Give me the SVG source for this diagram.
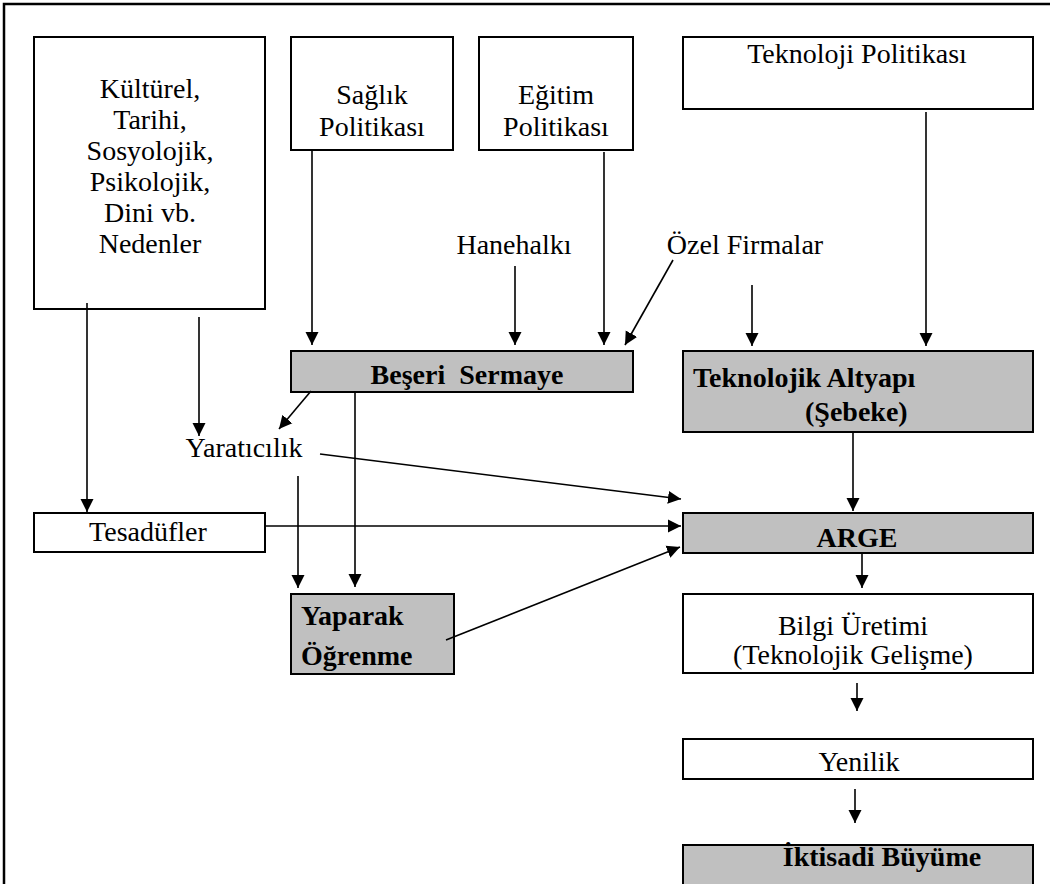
<svg xmlns="http://www.w3.org/2000/svg" width="1050" height="884" viewBox="0 0 1050 884">
<style>
.box{fill:#fff;stroke:#000;stroke-width:2}
.gray{fill:#c0c0c0;stroke:#000;stroke-width:2}
text{font-family:"Liberation Serif","Times New Roman",serif;font-size:28px;fill:#000}
.c{text-anchor:middle}
.b{font-weight:bold}
.con line{stroke:#000;stroke-width:1.6;marker-end:url(#ah)}
</style>
<defs>
<marker id="ah" markerUnits="userSpaceOnUse" markerWidth="14" markerHeight="14" viewBox="0 0 14 14" refX="13" refY="7" orient="auto">
<path d="M0,0.5 L13,7 L0,13.5 z" fill="#000"/>
</marker>
</defs>
<rect x="0" y="0" width="1050" height="884" fill="#fff"/>
<path d="M4,884 V4 H1052" fill="none" stroke="#000" stroke-width="2.5"/>

<g id="kulturel">
<rect class="box" x="34" y="37" width="231" height="272"/>
<text class="c" x="150" y="98">Kültürel,</text>
<text class="c" x="150" y="129">Tarihi,</text>
<text class="c" x="150" y="160">Sosyolojik,</text>
<text class="c" x="150" y="191">Psikolojik,</text>
<text class="c" x="150" y="222">Dini vb.</text>
<text class="c" x="150" y="253">Nedenler</text>
</g>
<g id="saglik">
<rect class="box" x="291" y="37" width="162" height="113"/>
<text class="c" x="372" y="104">Sağlık</text>
<text class="c" x="372" y="136">Politikası</text>
</g>
<g id="egitim">
<rect class="box" x="479" y="37" width="154" height="113"/>
<text class="c" x="556" y="104">Eğitim</text>
<text class="c" x="556" y="136">Politikası</text>
</g>
<g id="teknoloji-politikasi">
<rect class="box" x="683" y="37" width="350" height="72"/>
<text class="c" x="857" y="63">Teknoloji Politikası</text>
</g>
<g id="hanehalki">
<text class="c" x="514" y="254">Hanehalkı</text>
</g>
<g id="ozel-firmalar">
<text class="c" x="745" y="254">Özel Firmalar</text>
</g>
<g id="beseri-sermaye">
<rect class="gray" x="291" y="351" width="342" height="41"/>
<text class="c b" x="467" y="384" xml:space="preserve">Beşeri  Sermaye</text>
</g>
<g id="teknolojik-altyapi">
<rect class="gray" x="683" y="351" width="350" height="81"/>
<text class="b" x="693" y="387">Teknolojik Altyapı</text>
<text class="b" x="805" y="421">(Şebeke)</text>
</g>
<g id="yaraticilik">
<text class="c" x="244" y="457">Yaratıcılık</text>
</g>
<g id="tesadufler">
<rect class="box" x="34" y="513" width="231" height="39"/>
<text class="c" x="148" y="541">Tesadüfler</text>
</g>
<g id="arge">
<rect class="gray" x="683" y="513" width="350" height="40"/>
<text class="c b" x="857" y="547">ARGE</text>
</g>
<g id="yaparak-ogrenme">
<rect class="gray" x="291" y="594" width="163" height="80"/>
<text class="b" x="301" y="625">Yaparak</text>
<text class="b" x="301" y="665">Öğrenme</text>
</g>
<g id="bilgi-uretimi">
<rect class="box" x="683" y="594" width="350" height="79"/>
<text class="c" x="853" y="635">Bilgi Üretimi</text>
<text class="c" x="853" y="664">(Teknolojik Gelişme)</text>
</g>
<g id="yenilik">
<rect class="box" x="683" y="739" width="350" height="40"/>
<text class="c" x="859" y="771">Yenilik</text>
</g>
<g id="iktisadi-buyume">
<rect class="gray" x="683" y="845" width="350" height="50"/>
<text class="c b" x="882" y="866">İktisadi Büyüme</text>
</g>

<g id="connectors" class="con">
<line x1="87" y1="303" x2="87" y2="512"/>
<line x1="199" y1="317" x2="199" y2="436"/>
<line x1="312" y1="150" x2="312" y2="345"/>
<line x1="515" y1="266" x2="515" y2="345"/>
<line x1="604" y1="152" x2="604" y2="345"/>
<line x1="673" y1="260" x2="625" y2="345"/>
<line x1="752" y1="285" x2="752" y2="346"/>
<line x1="926" y1="112" x2="926" y2="346"/>
<line x1="311" y1="391" x2="279" y2="429"/>
<line x1="355" y1="392" x2="355" y2="587"/>
<line x1="298" y1="476" x2="298" y2="588"/>
<line x1="320" y1="454" x2="681" y2="499"/>
<line x1="265" y1="526" x2="681" y2="526"/>
<line x1="446" y1="640" x2="680" y2="547"/>
<line x1="853" y1="432" x2="853" y2="511"/>
<line x1="862" y1="552" x2="862" y2="588"/>
<line x1="857" y1="683" x2="857" y2="711"/>
<line x1="855" y1="789" x2="855" y2="823"/>
</g>
</svg>
